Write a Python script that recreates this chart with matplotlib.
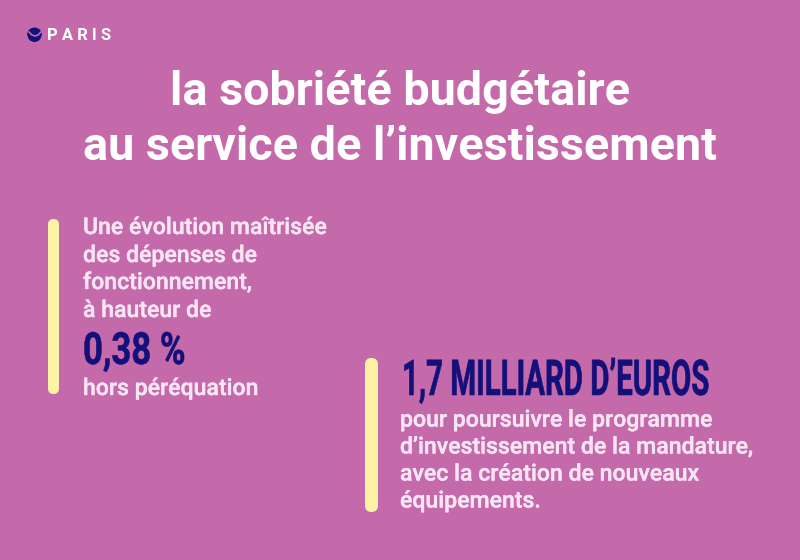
import matplotlib
matplotlib.use("Agg")
import matplotlib.pyplot as plt
from matplotlib.patches import FancyBboxPatch, Wedge
from matplotlib.patheffects import AbstractPathEffect, withStroke
from matplotlib.transforms import Affine2D

BG = "#c46aaa"
NAVY = "#14107a"
BAR = "#fdf3a6"
SOFT = "#f8e4f4"

logo_text = "P A R I S"
title_lines = ["la sobriété budgétaire", "au service de l’investissement"]
left_lines = ["Une évolution maîtrisée", "des dépenses de", "fonctionnement,", "à hauteur de"]
left_big = "0,38 %"
left_end = "hors péréquation"
right_big = "1,7 MILLIARD D’EUROS"
right_lines = ["pour poursuivre le programme", "d’investissement de la mandature,",
               "avec la création de nouveaux", "équipements."]

plt.rcParams['font.family'] = ['Roboto', 'DejaVu Sans']

fig = plt.figure(figsize=(8, 5.6), dpi=100, facecolor=BG)
ax = fig.add_axes([0, 0, 1, 1])
ax.set_xlim(0, 800)
ax.set_ylim(560, 0)
ax.axis('off')


class StretchY(AbstractPathEffect):
    # tall condensed look for the big figures, the text stays a real text
    def __init__(self, base_y, factor, stroke):
        super().__init__()
        self.base_y = base_y
        self.factor = factor
        self.stroke = stroke

    def draw_path(self, renderer, gc, tpath, affine, rgbFace=None):
        y0 = 560 - self.base_y
        stretched = affine + Affine2D().translate(0, -y0).scale(1, self.factor).translate(0, y0)
        gc2 = renderer.new_gc()
        gc2.copy_properties(gc)
        gc2.set_linewidth(self.stroke)
        gc2.set_foreground(NAVY)
        renderer.draw_path(gc2, tpath, stretched, rgbFace)
        gc2.restore()


def rounded_bar(x0, x1, y0, y1):
    r = (x1 - x0) / 2
    ax.add_patch(FancyBboxPatch((x0 + r, y0 + r), 0, y1 - y0 - 2 * r,
                                boxstyle="round,pad=%f" % r, fc=BAR, ec='none'))


def body(x, y, line):
    ax.text(x, y, line, fontsize=16.6, fontweight='medium', color=SOFT, va='baseline',
            path_effects=[withStroke(linewidth=0.3, foreground=SOFT)])


# logo
ax.add_patch(Wedge((34.5, 35), 7, 0, 180, fc=NAVY, ec='none'))
ax.add_patch(Wedge((34.5, 35), 7.5, 180, 360, fc=NAVY, ec='none'))
ax.plot([29, 32, 35, 38, 41], [32, 35, 36, 35, 32], color=BG, lw=1.2)
ax.text(47, 40, logo_text, fontsize=12, fontweight='bold', color='white', va='baseline')

# title
for y, line in zip([105, 160], title_lines):
    ax.text(400, y, line, fontsize=33.7, fontweight='bold', color='white', ha='center', va='baseline')

# left block
rounded_bar(48, 59, 219, 394)
for y, line in zip([234, 262, 289, 317], left_lines):
    body(83, y, line)
ax.text(83, 364, left_big, fontsize=25, fontweight='bold', color=NAVY, va='baseline',
        path_effects=[StretchY(364, 1.28, 0.4)])
body(83, 395, left_end)

# right block
rounded_bar(365, 378, 358, 512)
ax.text(402, 395, right_big, fontsize=21.2, fontweight='bold', color=NAVY, va='baseline',
        path_effects=[StretchY(395, 1.68, 0.4)])
for y, line in zip([426.5, 453.5, 480.5, 507.5], right_lines):
    body(400, y, line)

fig.savefig("out.png", dpi=100, facecolor=BG)
